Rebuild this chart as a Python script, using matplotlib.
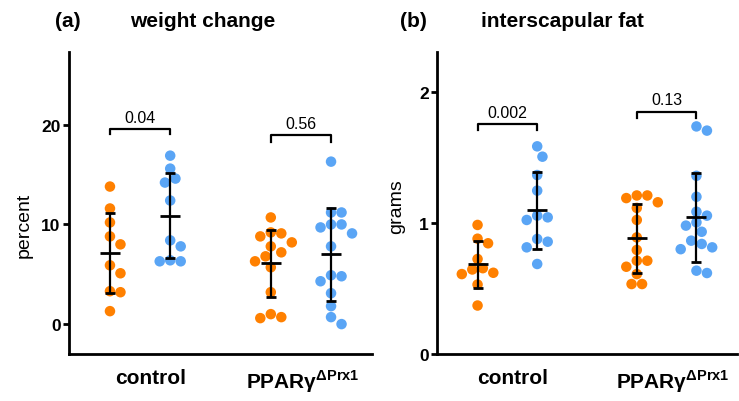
import numpy as np
import matplotlib
matplotlib.use("Agg")
import matplotlib.pyplot as plt

plt.rcParams["font.family"] = ["Liberation Sans", "DejaVu Sans"]
plt.rcParams["mathtext.fontset"] = "custom"
plt.rcParams["mathtext.rm"] = "Liberation Sans:bold"
plt.rcParams["mathtext.bf"] = "Liberation Sans:bold"

# ---- data ----
groups = ["control", "PPARγ$^{\\mathrm{ΔPrx1}}$"]

# (a) weight change, percent
wc_ctrl_orange = [13.8, 11.6, 10.2, 8.8, 8.0, 5.9, 5.1, 3.3, 3.2, 1.3]
wc_ctrl_blue = [16.9, 15.6, 14.6, 14.2, 12.4, 8.4, 7.8, 6.4, 6.3, 6.3]
wc_ppar_orange = [10.7, 9.1, 9.2, 8.8, 8.2, 7.8, 7.2, 6.8, 6.3, 5.7, 3.2, 1.0, 0.7, 0.6]
wc_ppar_blue = [16.3, 11.2, 11.2, 10.0, 10.0, 9.7, 9.1, 7.8, 4.3, 4.8, 4.9, 3.1, 1.8, 0.7, 0.0]
wc_pvals = ["0.04", "0.56"]

# (b) interscapular fat, grams
fat_ctrl_orange = [0.985, 0.88, 0.845, 0.725, 0.645, 0.61, 0.62, 0.655, 0.53, 0.37]
fat_ctrl_blue = [1.585, 1.506, 1.366, 1.247, 1.056, 1.023, 1.043, 0.878, 0.857, 0.814, 0.687]
fat_ppar_orange = [1.19, 1.158, 1.21, 1.21, 1.115, 1.023, 0.89, 0.794, 0.712, 0.712,
                   0.666, 0.61, 0.534, 0.534]
fat_ppar_blue = [1.705, 1.737, 1.36, 1.2, 1.086, 1.056, 0.98, 1.005, 0.933, 0.84,
                 0.80, 0.814, 0.865, 0.618, 0.636]
fat_pvals = ["0.002", "0.13"]

ORANGE = "#FF8000"
BLUE = "#5AA5F5"
XPOS = [0, 1, 2.67, 3.67]
DIAM = 10.5   # marker diameter in pixels


def swarm_x(ax, x0, vals, diam=DIAM):
    """simple beeswarm: offsets in pixel space, returned in data units"""
    vals = np.asarray(vals, dtype=float)
    pts = ax.transData.transform(np.column_stack([np.full(len(vals), x0), vals]))
    xc, ys = pts[0, 0], pts[:, 1]
    xs = np.zeros(len(vals))
    placed = []
    step = diam / 2
    for i in np.argsort(-ys):
        for k in range(60):
            off = ((k + 1) // 2) * step * (1 if k % 2 else -1)
            if all((off - px) ** 2 + (ys[i] - py) ** 2 >= diam ** 2 for px, py in placed):
                break
        placed.append((off, ys[i]))
        xs[i] = xc + off
    back = ax.transData.inverted().transform(np.column_stack([xs, ys]))
    return back[:, 0]


def panel(ax, data, ylim, yticks, ylabel, ylab_y, ylab_x, brackets, pvals, xlab_pos):
    ax.set_xlim(-0.68, 4.35)
    ax.set_ylim(*ylim)
    colors = [ORANGE, BLUE, ORANGE, BLUE]
    for x0, vals, c in zip(XPOS, data, colors):
        xs = swarm_x(ax, x0, vals)
        ax.scatter(xs, vals, s=(DIAM * 0.72) ** 2, color=c, edgecolors="none", zorder=2)
        ax.errorbar(x0, np.mean(vals), yerr=np.std(vals, ddof=1), fmt="_", color="black",
                    markersize=14, mew=2, elinewidth=1.6, capsize=3.8, capthick=1.6, zorder=3)
    # significance brackets
    for (xa, xb, y, drop), p in zip(brackets, pvals):
        ax.plot([xa, xa, xb, xb], [y - drop, y, y, y - drop], color="black", lw=1.6,
                clip_on=False)
        ax.annotate(p, ((xa + xb) / 2, y), xytext=(0, 3), textcoords="offset points",
                    ha="center", va="bottom", fontsize=11.5)
    for s in ["top", "right"]:
        ax.spines[s].set_visible(False)
    for s in ["left", "bottom"]:
        ax.spines[s].set_linewidth(2)
    ax.set_yticks(yticks)
    ax.tick_params(axis="y", direction="out", length=4, width=2, labelsize=12.5, pad=2)
    for t in ax.get_yticklabels():
        t.set_fontweight("bold")
    ax.set_xticks(xlab_pos)
    ax.set_xticklabels(groups, fontsize=15, fontweight="bold")
    ax.tick_params(axis="x", length=0, pad=10)
    ax.set_ylabel(ylabel, fontsize=14)
    ax.yaxis.set_label_coords(ylab_x, ylab_y)


fig = plt.figure(figsize=(7.39, 4.02), dpi=100)
W, H = 739, 402
ax1 = fig.add_axes([69 / W, 47 / H, 303 / W, 302 / H])
ax2 = fig.add_axes([437 / W, 47 / H, 300 / W, 302 / H])

panel(ax1, [wc_ctrl_orange, wc_ctrl_blue, wc_ppar_orange, wc_ppar_blue],
      (-3, 27.3), [0, 10, 20], "percent", 0.43, -0.12,
      [(0, 1, 19.6, 0.5), (2.67, 3.67, 19.0, 0.7)], wc_pvals, [0.67, 3.2])
panel(ax2, [fat_ctrl_orange, fat_ctrl_blue, fat_ppar_orange, fat_ppar_blue],
      (0, 2.305), [0, 1, 2], "grams", 0.49, -0.105,
      [(0, 1, 1.756, 0.046), (2.67, 3.67, 1.85, 0.045)], fat_pvals, [0.58, 3.27])

fig.text(55 / W, 1 - 27 / H, "(a)", fontsize=15, fontweight="bold", ha="left", va="baseline")
fig.text(203 / W, 1 - 27 / H, "weight change", fontsize=15, fontweight="bold",
         ha="center", va="baseline")
fig.text(400 / W, 1 - 27 / H, "(b)", fontsize=15, fontweight="bold", ha="left", va="baseline")
fig.text(562 / W, 1 - 27 / H, "interscapular fat", fontsize=15, fontweight="bold",
         ha="center", va="baseline")

fig.savefig("out.png", dpi=100)
